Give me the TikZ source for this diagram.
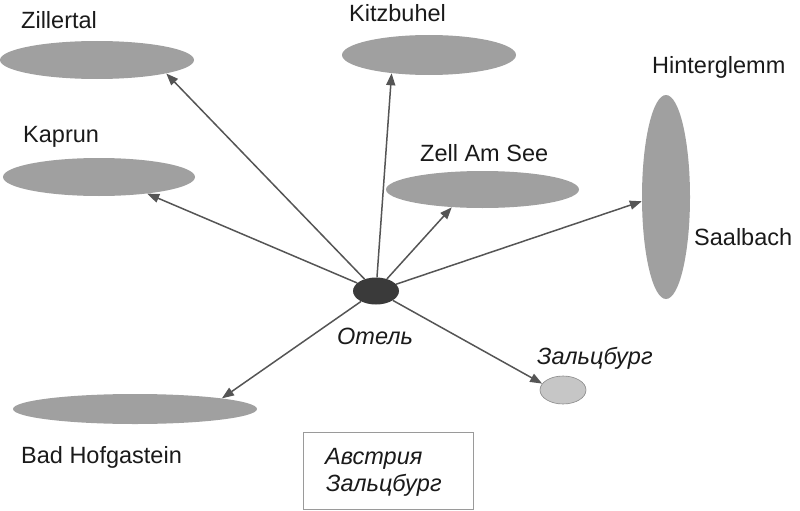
\documentclass[tikz,border=0pt]{standalone}
\usepackage{fontspec}
\setmainfont{Liberation Sans}
\usetikzlibrary{shapes.geometric,arrows.meta}
\definecolor{ellgray}{HTML}{A0A0A0}
\definecolor{hotelgray}{HTML}{3A3A3A}
\definecolor{lightell}{HTML}{C6C6C6}
\definecolor{lightedge}{HTML}{8A8A8A}
\definecolor{arrowgray}{HTML}{555555}
\definecolor{boxedge}{HTML}{9A9A9A}
\definecolor{txt}{HTML}{1A1A1A}
\tikzset{
  place/.style={ellipse, fill=ellgray, draw=none, inner sep=0pt},
  lbl/.style={anchor=base west, inner sep=0pt, text=txt, font=\fontsize{23.5}{28}\selectfont},
  ilbl/.style={lbl, font=\fontsize{23.5}{28}\selectfont\itshape},
  link/.style={draw=arrowgray, line width=1.5pt, -{Triangle[length=12pt,width=9pt]}},
}
\begin{document}
\begin{tikzpicture}[x=1pt,y=-1pt]
\useasboundingbox (0,0) rectangle (800,511);
% places
\node[place, minimum width=194pt, minimum height=38pt] (zil) at (97,60) {};
\node[place, minimum width=174pt, minimum height=40pt] (kit) at (429,55) {};
\node[place, minimum width=192pt, minimum height=38pt] (kap) at (99,177) {};
\node[place, minimum width=193pt, minimum height=37pt] (zel) at (482.5,189.5) {};
\node[place, minimum width=48pt, minimum height=204pt] (hin) at (666,197) {};
\node[place, minimum width=244pt, minimum height=30pt] (bad) at (135,409) {};
\node[ellipse, fill=lightell, draw=lightedge, line width=0.6pt, inner sep=0pt, minimum width=46pt, minimum height=28pt] (sal) at (563,390) {};
\node[ellipse, fill=hotelgray, draw=none, inner sep=0pt, minimum width=46pt, minimum height=27pt] (hotel) at (376,291) {};
% labels
\node[lbl] (lzil) at (21,29) {Zillertal};
\node[lbl] (lkit) at (349,22) {Kitzbuhel};
\node[lbl] (lkap) at (23,142) {Kaprun};
\node[lbl] (lzel) at (420,161) {Zell Am See};
\node[lbl] (lhin) at (652,74) {Hinterglemm};
\node[lbl] (lsaa) at (694,245) {Saalbach};
\node[lbl] (lbad) at (21,463) {Bad Hofgastein};
\node[ilbl] (lhotel) at (337,344) {Отель};
\node[ilbl] (lsal) at (537,364) {Зальцбург};
% legend box
\node[draw=boxedge, line width=0.7pt, minimum width=170pt, minimum height=77pt, inner sep=0pt] (box) at (388,470.5) {};
\node[ilbl] (bx1) at (325,464) {Австрия};
\node[ilbl] (bx2) at (326,491) {Зальцбург};
% connectors
\draw[link] (hotel) -- (zil.-11);
\draw[link] (hotel) -- (kit.-154);
\draw[link] (hotel) -- (kap.-19);
\draw[link] (hotel) -- (zel.-150);
\draw[link] (hotel) -- (hin.-170);
\draw[link] (hotel) -- (sal.163);
\draw[link] (hotel) -- (bad.7);
\end{tikzpicture}
\end{document}
